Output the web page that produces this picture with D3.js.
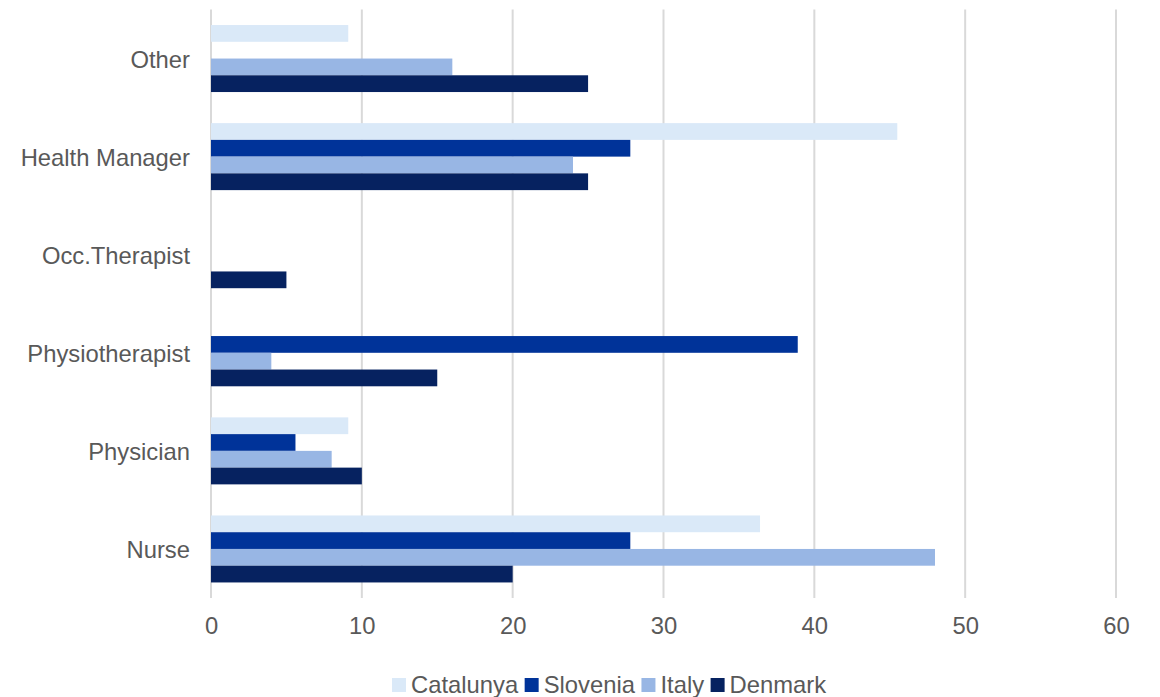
<!DOCTYPE html>
<html><head><meta charset="utf-8">
<script src="https://cdn.jsdelivr.net/npm/d3@7"></script>
<style>body{margin:0;background:#fff}svg{display:block}text{font-family:"Liberation Sans",Arial,sans-serif;fill:#595959}</style>
</head><body>
<svg id="c" width="1160" height="697"></svg>
<script>
const categories = ["Other","Health Manager","Occ.Therapist","Physiotherapist","Physician","Nurse"];
const seriesNames = ["Catalunya","Slovenia","Italy","Denmark"];
const colors = ["#DAE9F8","#003399","#98B6E4","#062260"];
const catalunya = [9.1,45.5,0,0,9.1,36.4];
const slovenia = [0,27.8,0,38.9,5.6,27.8];
const italy = [16,24,0,4,8,48];
const denmark = [25,25,5,15,10,20];
const xTicks = [0,10,20,30,40,50,60];

const values = [catalunya, slovenia, italy, denmark];
const FS = 23.8;
const svg = d3.select("#c");
const x = d3.scaleLinear().domain([0,60]).range([211,1116]);
const y0 = d3.scaleBand().domain(categories).range([9.5,598]).paddingInner(0.317).paddingOuter(0.1585);
const y1 = d3.scaleBand().domain(seriesNames).range([0,y0.bandwidth()]);

// grid
svg.append("g").selectAll("line").data(xTicks).join("line")
  .attr("x1",d=>x(d)).attr("x2",d=>x(d)).attr("y1",9.5).attr("y2",598)
  .attr("stroke","#D9D9D9").attr("stroke-width",2);

// bars
const g = svg.append("g");
seriesNames.forEach((s,si)=>{
  g.append("g").selectAll("rect").data(categories.map((c,i)=>({c,v:values[si][i]})).filter(d=>d.v>0))
   .join("rect")
   .attr("x",x(0)).attr("y",d=>y0(d.c)+y1(s))
   .attr("width",d=>x(d.v)-x(0)).attr("height",y1.bandwidth())
   .attr("fill",colors[si]);
});

// x axis labels
const xa = svg.append("g").attr("transform","translate(0,598)")
  .call(d3.axisBottom(x).tickValues(xTicks).tickSize(0).tickPadding(19));
xa.select(".domain").remove();
xa.selectAll("text").attr("font-size",FS).style("font-family","'Liberation Sans',Arial,sans-serif").attr("fill","#595959");

// y axis labels
const ya = svg.append("g").attr("transform","translate(211,1.5)")
  .call(d3.axisLeft(y0).tickSize(0).tickPadding(21));
ya.select(".domain").remove();
ya.selectAll("text").attr("font-size",FS).style("font-family","'Liberation Sans',Arial,sans-serif").attr("fill","#595959");

// legend
const leg = svg.append("g");
let cx = 392;
seriesNames.forEach((s,i)=>{
  const item = leg.append("g");
  item.append("rect").attr("x",cx).attr("y",678).attr("width",14).attr("height",14).attr("fill",colors[i]);
  const t = item.append("text").attr("x",cx+19).attr("y",693).attr("font-size",FS).text(s);
  cx += 19 + t.node().getComputedTextLength() + 6.5;
});
</script>
</body></html>
